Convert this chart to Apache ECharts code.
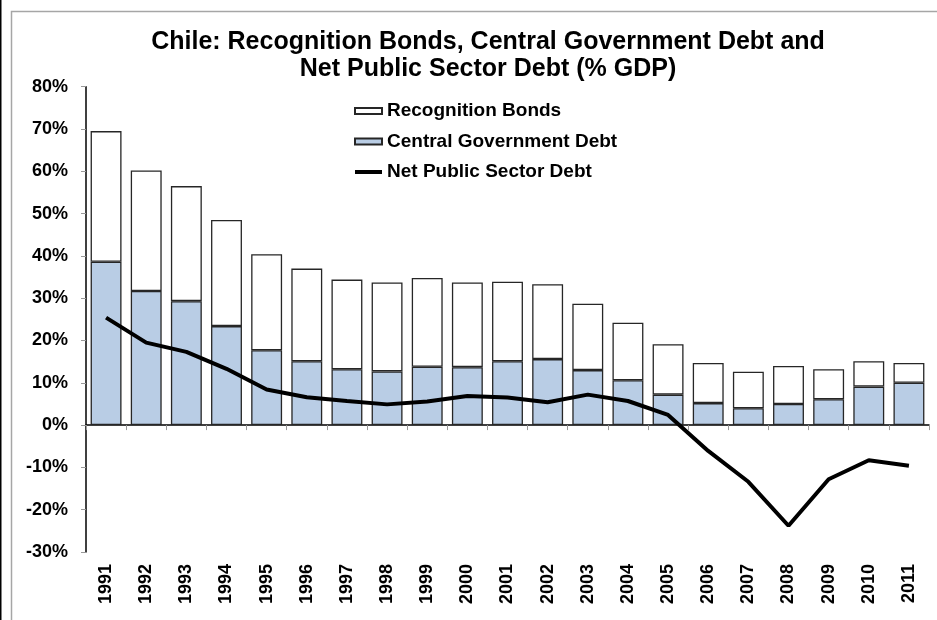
<!DOCTYPE html>
<html>
<head>
<meta charset="utf-8">
<script src="https://cdn.jsdelivr.net/npm/echarts@6/dist/echarts.min.js"></script>
<style>
html,body{margin:0;padding:0;background:#fff;}
#c{width:937px;height:620px;}
</style>
</head>
<body>
<div id="c"></div>
<script>
var years = ['1991','1992','1993','1994','1995','1996','1997','1998','1999','2000','2001','2002','2003','2004','2005','2006','2007','2008','2009','2010','2011'];
var centralGovDebt = [38.6,31.7,29.3,23.4,17.7,15.1,13.2,12.7,13.8,13.7,15.1,15.6,13.0,10.6,7.2,5.2,4.0,5.0,6.1,9.1,10.0];
var recognitionBonds = [30.9,28.5,27.2,25.1,22.7,21.9,21.2,21.0,21.0,20.0,18.8,17.7,15.7,13.6,11.9,9.5,8.6,9.0,7.1,6.0,4.7];
var netPublicSectorDebt = [25.4,19.5,17.3,13.3,8.4,6.6,5.7,4.9,5.6,6.9,6.5,5.4,7.2,5.7,2.4,-6.1,-13.4,-23.8,-12.8,-8.3,-9.6];
var yTicks = {min:-30, max:80, interval:10};

var FONT = '"Liberation Sans", Arial, sans-serif';
var chart = echarts.init(document.getElementById('c'), null, {renderer:'canvas'});
chart.setOption({
  animation:false,
  backgroundColor:'#fff',
  graphic:[
    {type:'rect', shape:{x:0,y:0,width:1.5,height:620}, style:{fill:'#000'}, silent:true},
    {type:'polyline', shape:{points:[[11.5,620],[11.5,11.5],[937,11.5]]}, style:{stroke:'#a6a6a6', lineWidth:1.5, fill:null}, silent:true}
  ],
  title:{
    text:'Chile: Recognition Bonds, Central Government Debt and\nNet Public Sector Debt (% GDP)',
    left:488, top:29, textAlign:'center', padding:0,
    textStyle:{fontFamily:FONT, fontWeight:'bold', fontSize:25, lineHeight:27, color:'#000'}
  },
  legend:{
    orient:'vertical', left:353, top:101, padding:0, itemWidth:27, itemHeight:6, itemGap:10.5,
    textStyle:{fontFamily:FONT, fontWeight:'bold', fontSize:19, lineHeight:20, color:'#000'},
    data:[
      {name:'Recognition Bonds', icon:'rect'},
      {name:'Central Government Debt', icon:'rect'},
      {name:'Net Public Sector Debt', itemStyle:{opacity:0}, lineStyle:{width:4, color:'#000'}}
    ]
  },
  grid:{left:86, right:8, top:86.7, bottom:68, containLabel:false},
  xAxis:[
    {type:'category', data:years, position:'bottom',
     axisLine:{onZero:true, lineStyle:{color:'#000', width:1.5}},
     axisTick:{show:true, alignWithLabel:false, length:5, lineStyle:{color:'#999'}},
     axisLabel:{show:false}},
    {type:'category', data:years, position:'bottom',
     axisLine:{show:false, onZero:false}, axisTick:{show:false},
     axisLabel:{show:true, rotate:90, margin:12, interval:0, fontFamily:FONT, fontWeight:'bold', fontSize:18, color:'#000'}}
  ],
  yAxis:{
    type:'value', min:yTicks.min, max:yTicks.max, interval:yTicks.interval,
    axisLine:{show:true, lineStyle:{color:'#000', width:1.5}},
    axisTick:{show:true, length:5, lineStyle:{color:'#999'}},
    splitLine:{show:false},
    axisLabel:{formatter:'{value}%', margin:18, fontFamily:FONT, fontWeight:'bold', fontSize:18, color:'#000'}
  },
  series:[
    {name:'Central Government Debt', type:'bar', stack:'d', data:centralGovDebt, barCategoryGap:'23%',
     itemStyle:{color:'#b9cde5', borderColor:'#262626', borderWidth:1.3}},
    {name:'Recognition Bonds', type:'bar', stack:'d', data:recognitionBonds, barCategoryGap:'23%',
     itemStyle:{color:'#fff', borderColor:'#262626', borderWidth:1.3}},
    {name:'Net Public Sector Debt', type:'line', data:netPublicSectorDebt, symbol:'none',
     lineStyle:{color:'#000', width:4}, itemStyle:{color:'#000'}, z:5}
  ]
});
</script>
</body>
</html>
